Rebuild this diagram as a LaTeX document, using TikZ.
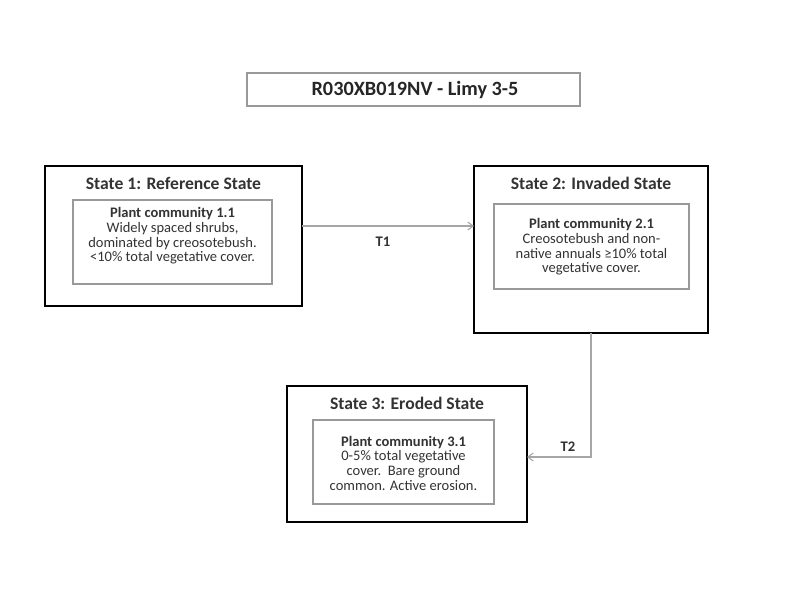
\documentclass[tikz,border=0pt]{standalone}
\usepackage{fontspec}
\setmainfont{Carlito}
\usetikzlibrary{arrows.meta}
\begin{document}
\begin{tikzpicture}[x=0.75pt,y=-0.75pt,
  outerbox/.style={draw=black,line width=1.5pt},
  innerbox/.style={draw=gray!80,line width=0.8pt},
  titlebox/.style={draw=gray!80,line width=0.9pt},
  conn/.style={draw=gray!70,line width=0.8pt,-{Straight Barb[length=4pt,width=6pt]}},
  statetitle/.style={font=\fontsize{13.2}{14}\selectfont\bfseries,text=black!80,inner sep=0pt},
  body/.style={align=center,font=\fontsize{10.9}{11}\selectfont,text=black!80,inner sep=0pt},
  lbl/.style={font=\fontsize{11}{12}\selectfont\bfseries,text=black!80,inner sep=0pt}]
\useasboundingbox (0,0) rectangle (800,600);
\fill[white] (0,0) rectangle (800,600);
% title
\draw[titlebox] (247,73) rectangle (580,106);
\node[font=\fontsize{15.2}{16}\selectfont\bfseries,text=black!85] (title) at (415,90) {R030XB019NV - Limy 3-5};
% state 1
\draw[outerbox] (45,166) rectangle (302,306);
\coordinate (s1e) at (302,226);
\node[statetitle] (s1t) at (173.5,183) {State 1: Reference State};
\draw[innerbox] (73,200) rectangle (272,284);
\node[body] (s1b) at (172.5,236) {\textbf{Plant community 1.1}\\Widely spaced shrubs,\\dominated by creosotebush.\\<10\% total vegetative cover.};
% state 2
\draw[outerbox] (474,166) rectangle (708,333);
\coordinate (s2w) at (474,226);
\coordinate (s2s) at (591,333);
\node[statetitle] (s2t) at (591,183) {State 2: Invaded State};
\draw[innerbox] (494,204) rectangle (689,289);
\node[body] (s2b) at (591.5,247) {\textbf{Plant community 2.1}\\Creosotebush and non-\\native annuals ≥10\% total\\vegetative cover.};
% state 3
\draw[outerbox] (287,386) rectangle (527,522);
\coordinate (s3e) at (527,457);
\node[statetitle] (s3t) at (407,403) {State 3: Eroded State};
\draw[innerbox] (313,420) rectangle (494,504);
\node[body] (s3b) at (403.5,463) {\textbf{Plant community 3.1}\\0-5\% total vegetative\\cover.\ \ Bare ground\\common. Active erosion.};
% connectors
\draw[conn] (s1e) -- (s2w);
\node[lbl] (t1) at (383,242) {T1};
\draw[conn] (s2s) |- (s3e);
\node[lbl] (t2) at (568,447) {T2};
\end{tikzpicture}
\end{document}
